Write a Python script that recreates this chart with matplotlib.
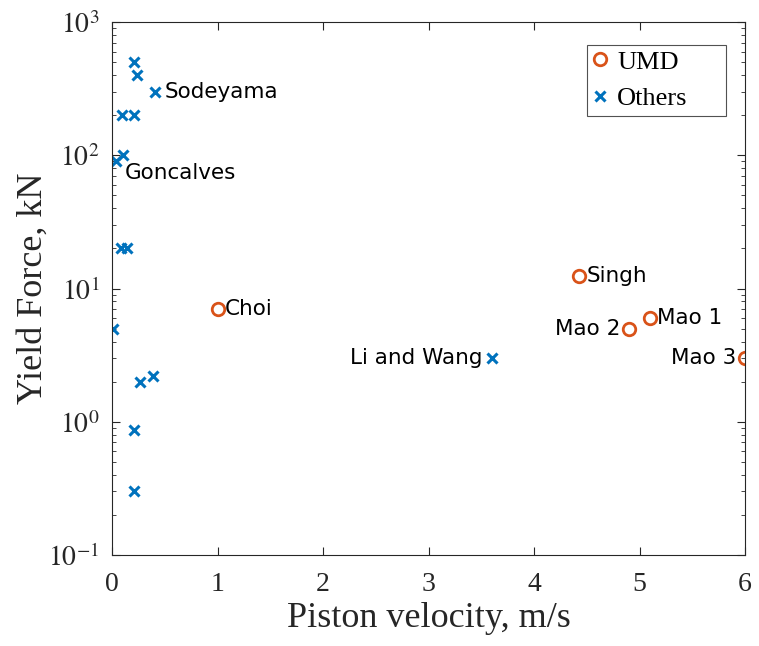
"""
Yield force vs piston velocity, UMD dampers against others from the literature.
"""

import math
import matplotlib
matplotlib.use('Agg')
import matplotlib.pyplot as plt
from matplotlib.ticker import LogLocator, NullFormatter, FuncFormatter

# ===== DATA =====
umd_names = ['Choi', 'Singh', 'Mao 1', 'Mao 2', 'Mao 3']
umd_vel = [1.0, 4.43, 5.1, 4.9, 6.0]
umd_force = [7.0, 12.5, 6.0, 5.0, 3.0]

other_vel = [0.21, 0.24, 0.41, 0.095, 0.21, 0.10, 0.04, 0.085, 0.14,
             0.01, 0.265, 0.39, 0.21, 0.21, 3.6]
other_force = [500, 400, 300, 200, 200, 100, 91, 20, 20,
               5.0, 2.0, 2.2, 0.86, 0.30, 3.0]

BLUE = '#0072BD'
ORANGE = '#D95319'
DARK = '#262626'

plt.rcParams['mathtext.fontset'] = 'stix'
serif = 'Liberation Serif'

fig = plt.figure(figsize=(7.59, 6.46), dpi=100)
ax = fig.add_axes([0.1476, 0.1409, 0.834, 0.825])

ax.plot(umd_vel, umd_force, 'o', ls='none', mfc='none', mec=ORANGE,
        mew=2, ms=9, label='UMD')
ax.plot(other_vel, other_force, 'x', ls='none', color=BLUE,
        mew=2.2, ms=7, label='Others')

ax.set_yscale('log')
ax.set_xlim(0, 6)
ax.set_ylim(0.1, 1000)
ax.set_xticks(range(7))
ax.yaxis.set_major_locator(LogLocator(base=10, numticks=10))
ax.yaxis.set_minor_locator(LogLocator(base=10, subs=range(2, 10), numticks=50))
ax.yaxis.set_minor_formatter(NullFormatter())
ax.yaxis.set_major_formatter(FuncFormatter(
    lambda v, p: r'$10^{%d}$' % round(math.log10(v))))

ax.tick_params(which='both', direction='in', top=True, right=True,
               color=DARK, labelsize=20, labelcolor=DARK)
ax.tick_params(which='major', length=6)
ax.tick_params(which='minor', length=3)
ax.tick_params(axis='x', pad=12)
ax.tick_params(axis='y', pad=9)
for lab in ax.get_xticklabels():
    lab.set_fontfamily(serif)
for s in ax.spines.values():
    s.set_color(DARK)
    s.set_linewidth(0.8)

ax.set_xlabel('Piston velocity, m/s', fontsize=26, family=serif, color=DARK,
              labelpad=4)
ax.set_ylabel('Yield Force, kN', fontsize=26, family=serif, color=DARK,
              labelpad=-1)

# Annotations
txt = dict(fontsize=15.5, family='DejaVu Sans', va='center')
for name, xv, yv in zip(umd_names, umd_vel, umd_force):
    if name in ('Mao 2', 'Mao 3'):
        ax.annotate(name, (xv, yv), xytext=(-6, 0), textcoords='offset points',
                    ha='right', **txt)
    else:
        ax.annotate(name, (xv, yv), xytext=(5, 0), textcoords='offset points',
                    ha='left', **txt)

ax.annotate('Sodeyama', (other_vel[2], other_force[2]), xytext=(7, 0),
            textcoords='offset points', ha='left', **txt)
ax.annotate('Goncalves', (other_vel[6], other_force[6]), xytext=(6, -9),
            textcoords='offset points', ha='left', **txt)
ax.annotate('Li and Wang', (other_vel[14], other_force[14]), xytext=(-7, 0),
            textcoords='offset points', ha='right', **txt)

# MATLAB-style legend: wide box with space on the right
leg = ax.legend(loc='upper left', bbox_to_anchor=(0.750, 0.757, 0.2196, 0.2),
                mode='expand', borderaxespad=0,
                prop={'family': serif, 'size': 19},
                fancybox=False, edgecolor=DARK, handletextpad=0.35,
                handlelength=0.6, borderpad=0.2, labelspacing=0.5)
leg.get_frame().set_linewidth(0.8)

plt.savefig('out.png', dpi=100)
plt.close()
